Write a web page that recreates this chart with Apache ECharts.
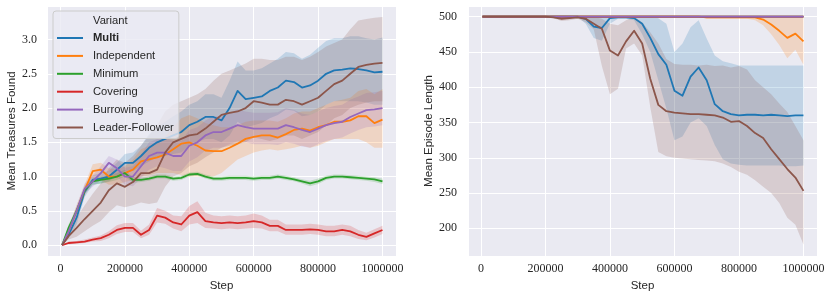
<!DOCTYPE html>
<html><head><meta charset="utf-8">
<script src="https://cdn.jsdelivr.net/npm/echarts@6/dist/echarts.min.js"></script>
<style>html,body{margin:0;padding:0;background:#fff}#c{width:831px;height:298px}</style>
</head><body><div id="c"></div>
<script>
const steps = [5000,25000,50000,75000,100000,125000,150000,175000,200000,225000,250000,275000,300000,325000,350000,375000,400000,425000,450000,475000,500000,525000,550000,575000,600000,625000,650000,675000,700000,725000,750000,775000,800000,825000,850000,875000,900000,925000,950000,975000,1000000];
const variants = ['Multi','Independent','Minimum','Covering','Burrowing','Leader-Follower'];
const colors = ['#1f77b4','#ff7f0e','#2ca02c','#d62728','#9467bd','#8c564b'];
const xTicks = [0,200000,400000,600000,800000,1000000];
const yTicksLeft = [0.0,0.5,1.0,1.5,2.0,2.5,3.0];
const yTicksRight = [200,250,300,350,400,450,500];

// Left: Mean Treasures Found
const trMulti   = [0,0.15,0.4,0.78,0.95,0.97,1.0,1.1,1.2,1.2,1.3,1.42,1.5,1.55,1.6,1.65,1.75,1.8,1.87,1.87,1.82,2.0,2.25,2.13,2.15,2.17,2.25,2.3,2.4,2.38,2.3,2.33,2.4,2.5,2.55,2.56,2.58,2.57,2.55,2.52,2.53];
const trMultiLo = [0,0.1,0.3,0.7,0.88,0.9,0.93,1.0,1.08,1.08,1.15,1.22,1.28,1.3,1.33,1.35,1.45,1.5,1.55,1.55,1.5,1.6,1.8,1.72,1.75,1.78,1.85,1.9,1.98,1.96,1.88,1.9,1.95,2.05,2.1,2.1,2.1,2.1,2.08,2.05,2.05];
const trMultiHi = [0,0.2,0.5,0.86,1.02,1.05,1.08,1.2,1.33,1.35,1.45,1.62,1.72,1.8,1.88,1.95,2.05,2.1,2.2,2.2,2.15,2.4,2.68,2.55,2.55,2.58,2.65,2.72,2.82,2.8,2.72,2.78,2.88,2.98,3.02,3.02,3.05,3.05,3.02,3.0,3.03];
const trIndep   = [0,0.2,0.5,0.8,1.08,1.1,1.0,1.0,1.05,1.1,1.22,1.25,1.28,1.32,1.4,1.48,1.5,1.45,1.38,1.37,1.37,1.42,1.48,1.55,1.58,1.6,1.6,1.57,1.62,1.68,1.7,1.67,1.72,1.75,1.8,1.8,1.82,1.88,1.88,1.78,1.83];
const trIndepLo = [0,0.15,0.42,0.72,0.95,0.95,0.88,0.88,0.92,0.95,1.0,1.02,1.05,1.05,1.05,1.02,1.0,1.0,1.0,1.0,1.05,1.15,1.25,1.3,1.35,1.38,1.4,1.38,1.4,1.42,1.45,1.42,1.45,1.5,1.55,1.55,1.55,1.55,1.5,1.42,1.42];
const trIndepHi = [0,0.25,0.58,0.88,1.18,1.2,1.12,1.1,1.15,1.25,1.4,1.45,1.5,1.58,1.72,1.85,1.9,1.85,1.78,1.75,1.72,1.72,1.75,1.8,1.82,1.82,1.82,1.8,1.85,1.92,1.95,1.95,2.0,2.05,2.1,2.12,2.15,2.25,2.28,2.2,2.28];
const trMin     = [0,0.25,0.5,0.8,0.93,0.95,0.97,1.0,1.05,0.95,0.95,0.97,1.0,1.0,0.97,0.98,1.03,1.04,1.0,0.97,0.97,0.98,0.98,0.98,0.97,0.98,0.98,1.0,0.98,0.96,0.93,0.9,0.93,0.98,1.0,1.0,0.99,0.98,0.97,0.96,0.93];
const trMinLo   = [0,0.2,0.45,0.75,0.88,0.9,0.92,0.95,1.0,0.91,0.92,0.94,0.97,0.97,0.94,0.95,1.0,1.01,0.97,0.94,0.94,0.95,0.95,0.95,0.94,0.95,0.95,0.97,0.95,0.93,0.9,0.86,0.89,0.95,0.97,0.97,0.96,0.95,0.94,0.92,0.89];
const trMinHi   = [0,0.3,0.55,0.85,0.98,1.0,1.02,1.05,1.1,0.99,0.98,1.0,1.03,1.03,1.0,1.01,1.06,1.07,1.03,1.0,1.0,1.01,1.01,1.01,1.0,1.01,1.01,1.03,1.01,0.99,0.96,0.94,0.97,1.01,1.03,1.03,1.02,1.01,1.0,0.99,0.97];
const trCov     = [0,0.03,0.04,0.05,0.08,0.1,0.15,0.22,0.25,0.25,0.15,0.22,0.43,0.4,0.33,0.3,0.43,0.48,0.35,0.33,0.32,0.33,0.32,0.33,0.35,0.33,0.28,0.28,0.22,0.22,0.22,0.23,0.22,0.2,0.2,0.22,0.2,0.15,0.12,0.17,0.22];
const trCovLo   = [0,0.01,0.02,0.03,0.05,0.06,0.1,0.16,0.19,0.19,0.1,0.15,0.33,0.31,0.24,0.2,0.3,0.32,0.25,0.24,0.23,0.24,0.23,0.24,0.25,0.24,0.2,0.2,0.15,0.15,0.15,0.16,0.15,0.13,0.13,0.15,0.13,0.09,0.07,0.11,0.16];
const trCovHi   = [0,0.05,0.06,0.08,0.11,0.14,0.2,0.29,0.32,0.32,0.21,0.3,0.54,0.5,0.43,0.42,0.57,0.64,0.47,0.43,0.42,0.43,0.42,0.43,0.46,0.43,0.37,0.37,0.3,0.3,0.3,0.31,0.3,0.28,0.28,0.3,0.28,0.22,0.18,0.23,0.28];
const trBur     = [0,0.2,0.5,0.82,0.93,1.05,1.2,1.12,1.0,1.0,1.15,1.3,1.35,1.35,1.3,1.3,1.45,1.5,1.6,1.65,1.65,1.7,1.75,1.72,1.7,1.7,1.7,1.7,1.75,1.72,1.68,1.65,1.7,1.75,1.78,1.8,1.87,1.92,1.97,1.98,2.0];
const trBurLo   = [0,0.15,0.42,0.75,0.85,0.95,1.08,1.0,0.88,0.86,0.98,1.1,1.15,1.12,1.08,1.08,1.22,1.28,1.38,1.42,1.42,1.47,1.52,1.5,1.47,1.47,1.47,1.46,1.5,1.48,1.44,1.42,1.47,1.52,1.55,1.57,1.63,1.68,1.72,1.73,1.75];
const trBurHi   = [0,0.25,0.58,0.9,1.02,1.15,1.3,1.25,1.13,1.15,1.32,1.5,1.55,1.57,1.52,1.52,1.68,1.72,1.82,1.88,1.88,1.93,1.98,1.95,1.93,1.93,1.93,1.94,2.0,1.97,1.92,1.9,1.95,2.0,2.03,2.05,2.12,2.17,2.22,2.23,2.25];
const trLF      = [0,0.13,0.25,0.38,0.5,0.62,0.8,0.9,0.85,0.92,1.05,1.05,1.1,1.35,1.5,1.55,1.6,1.62,1.7,1.8,1.9,1.93,1.95,2.0,2.1,2.08,2.05,2.05,2.12,2.1,2.05,2.1,2.15,2.25,2.35,2.4,2.5,2.6,2.63,2.65,2.66];
const trLFLo    = [0,0.08,0.12,0.2,0.28,0.35,0.48,0.58,0.55,0.58,0.62,0.6,0.62,0.85,1.0,1.05,1.15,1.2,1.28,1.35,1.42,1.45,1.47,1.5,1.57,1.55,1.52,1.55,1.6,1.6,1.55,1.6,1.65,1.75,1.85,1.9,2.0,2.05,2.08,2.1,2.1];
const trLFHi    = [0,0.2,0.4,0.58,0.75,0.9,1.12,1.25,1.2,1.3,1.45,1.6,1.75,1.95,2.05,2.1,2.15,2.2,2.28,2.4,2.5,2.55,2.6,2.65,2.72,2.72,2.7,2.7,2.75,2.75,2.7,2.75,2.82,2.9,2.95,3.0,3.15,3.28,3.3,3.32,3.33];

// Right: Mean Episode Length
const epMulti   = [500,500,500,500,500,500,500,500,500,500,500,500,500,497,486,484,498,499,499,498,490,470,447,432,395,388,415,428,410,376,366,362,360,361,361,360,361,360,359,360,360];
const epMultiLo = [500,500,500,500,500,500,500,500,500,500,500,500,500,490,470,466,490,497,497,495,475,450,410,370,325,330,350,356,345,318,298,292,290,289,289,289,289,289,288,288,289];
const epMultiHi = [500,500,500,500,500,500,500,500,500,500,500,500,500,500,500,500,500,500,500,500,500,500,498,490,450,462,485,495,469,445,437,434,431,431,431,431,431,431,431,431,431];
const epIndep   = [500,500,500,500,500,500,500,500,500,500,500,500,500,500,500,500,500,500,500,500,500,500,500,500,500,500,500,500,499,499,499,499,499,499,499,496,489,480,470,476,465];
const epIndepLo = [500,500,500,500,500,500,500,500,500,500,500,500,500,500,500,500,500,500,500,500,500,500,500,500,500,500,500,500,497,497,497,497,497,497,495,488,475,460,441,453,432];
const epIndepHi = [500,500,500,500,500,500,500,500,500,500,500,500,500,500,500,500,500,500,500,500,500,500,500,500,500,500,500,500,500,500,500,500,500,500,500,500,500,500,500,500,500];
const epMin     = [500,500,500,500,500,500,500,500,500,500,500,500,500,500,500,500,500,500,500,500,500,500,500,500,500,500,500,500,500,500,500,500,500,500,500,500,500,500,500,500,500];
const epCov     = [500,500,500,500,500,500,500,500,500,500,500,500,500,500,500,500,500,500,500,500,500,500,500,500,500,500,500,500,500,500,500,500,500,500,500,500,500,500,500,500,500];
const epBur     = [500,500,500,500,500,500,500,500,500,500,500,500,500,500,500,500,500,500,500,500,500,500,500,500,500,500,500,500,500,500,500,500,500,500,500,500,500,500,500,500,500];
const epLF      = [500,500,500,500,500,500,500,500,500,499,497,498,499,497,490,483,452,445,465,480,462,412,375,366,364,363,362,362,361,360,357,351,352,345,335,328,312,298,284,272,253];
const epLFLo    = [500,500,500,500,500,500,500,500,500,498,494,495,497,492,482,430,390,398,455,462,445,372,308,302,300,299,298,297,296,295,292,287,280,276,268,259,250,236,215,205,177];
const epLFHi    = [500,500,500,500,500,500,500,500,500,500,500,500,500,500,500,497,490,488,495,500,492,478,462,440,433,432,432,431,432,430,431,428,430,425,410,400,390,377,365,345,325];

const TXT = '#262626';
const SERIF = 'Liberation Serif';
const SANS = 'Liberation Sans';

function rgba(hex, a) {
  const n = parseInt(hex.slice(1), 16);
  return 'rgba(' + ((n >> 16) & 255) + ',' + ((n >> 8) & 255) + ',' + (n & 255) + ',' + a + ')';
}
function band(g, lo, hi, color) {
  return {
    type: 'custom', xAxisIndex: g, yAxisIndex: g, z: 1, silent: true, clip: true,
    data: steps.map((s, i) => [s, lo[i], hi[i]]),
    encode: { x: 0, y: [1, 2] },
    renderItem: function (params, api) {
      if (params.dataIndex !== 0) return null;
      const pts = [];
      for (let i = 0; i < steps.length; i++) pts.push(api.coord([steps[i], hi[i]]));
      for (let i = steps.length - 1; i >= 0; i--) pts.push(api.coord([steps[i], lo[i]]));
      return { type: 'polygon', shape: { points: pts }, style: { fill: rgba(color, 0.2), stroke: null } };
    }
  };
}
function line(g, name, vals, color) {
  return {
    type: 'line', name: name, xAxisIndex: g, yAxisIndex: g, z: 3,
    data: steps.map((s, i) => [s, vals[i]]),
    showSymbol: false, symbol: 'none', silent: true,
    lineStyle: { color: color, width: 1.8, join: 'round' }, itemStyle: { color: color }
  };
}
function xAxis(g, min, max) {
  return {
    type: 'value', gridIndex: g, min: min, max: max, splitNumber: 5,
    axisLine: { show: false }, axisTick: { show: false },
    splitLine: { show: true, lineStyle: { color: '#ffffff', width: 1 } },
    axisLabel: {
      margin: 7, fontFamily: SERIF, fontSize: 12, color: TXT,
      formatter: v => (xTicks.indexOf(v) >= 0 ? String(v) : '')
    },
    name: 'Step', nameLocation: 'middle', nameGap: 22,
    nameTextStyle: { fontFamily: SANS, fontSize: 11.5, color: TXT }
  };
}
function yAxis(g, min, max, ticks, fmt, name, gap, margin) {
  return {
    type: 'value', gridIndex: g, min: min, max: max, splitNumber: 7,
    axisLine: { show: false }, axisTick: { show: false },
    splitLine: { show: true, lineStyle: { color: '#ffffff', width: 1 } },
    axisLabel: {
      margin: margin, fontFamily: SERIF, fontSize: 12, color: TXT,
      formatter: v => { for (const t of ticks) { if (Math.abs(t - v) < 1e-6) return fmt(t); } return ''; }
    },
    name: name, nameLocation: 'middle', nameGap: gap,
    nameTextStyle: { fontFamily: SANS, fontSize: 11.5, color: TXT }
  };
}

const leftSets = [
  [trMulti, trMultiLo, trMultiHi], [trIndep, trIndepLo, trIndepHi], [trMin, trMinLo, trMinHi],
  [trCov, trCovLo, trCovHi], [trBur, trBurLo, trBurHi], [trLF, trLFLo, trLFHi]
];
const rightSets = [
  [epMulti, epMultiLo, epMultiHi], [epIndep, epIndepLo, epIndepHi], [epMin, null, null],
  [epCov, null, null], [epBur, null, null], [epLF, epLFLo, epLFHi]
];

const series = [];
leftSets.forEach((s, i) => { series.push(band(0, s[1], s[2], colors[i])); });
leftSets.forEach((s, i) => { series.push(line(0, variants[i], s[0], colors[i])); });
rightSets.forEach((s, i) => { if (s[1]) series.push(band(1, s[1], s[2], colors[i])); });
rightSets.forEach((s, i) => { series.push(line(1, variants[i], s[0], colors[i])); });

const chart = echarts.init(document.getElementById('c'), null, { renderer: 'canvas' });
chart.setOption({
  animation: false,
  backgroundColor: '#ffffff',
  grid: [
    { left: 47, top: 6, width: 349, height: 250, show: true, backgroundColor: '#eaeaf2', borderWidth: 0, containLabel: false, outerBoundsMode: 'none' },
    { left: 468, top: 6, width: 349, height: 250, show: true, backgroundColor: '#eaeaf2', borderWidth: 0, containLabel: false, outerBoundsMode: 'none' }
  ],
  xAxis: [xAxis(0, -42000, 1042000), xAxis(1, -40000, 1042000)],
  yAxis: [
    yAxis(0, -0.16, 3.49, yTicksLeft, t => t.toFixed(1), 'Mean Treasures Found', 29, 10),
    yAxis(1, 160.7, 515.2, yTicksRight, t => String(t), 'Mean Episode Length', 32, 11)
  ],
  legend: {
    data: variants, orient: 'vertical', left: 53, top: 11,
    padding: [20, 5, 4, 4], itemGap: 3.9, itemWidth: 26, itemHeight: 2, icon: 'rect',
    backgroundColor: 'rgba(234,234,242,0.8)', borderColor: '#cccccc', borderWidth: 1, borderRadius: 3,
    selectedMode: false,
    formatter: n => (n === 'Multi' ? '{b|Multi}' : n),
    textStyle: {
      fontFamily: SANS, fontSize: 11.2, color: TXT, lineHeight: 14, padding: [0, 0, 0, 5],
      rich: { b: { fontFamily: SANS, fontSize: 11.2, fontWeight: 'bold', color: TXT, lineHeight: 14 } }
    }
  },
  graphic: [{
    type: 'text', left: 93, top: 15, z: 100,
    style: { text: 'Variant', fontFamily: SANS, fontSize: 11.2, fill: TXT }
  }],
  series: series
});
</script>
</body></html>
